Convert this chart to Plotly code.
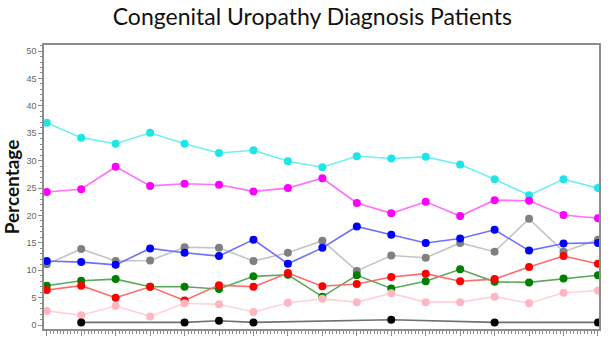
import plotly.graph_objects as go

x_idx = list(range(17))

cyan = [36.9, 34.2, 33.1, 35.1, 33.1, 31.4, 31.9, 29.9, 28.8, 30.8, 30.4, 30.7, 29.3, 26.6, 23.7, 26.6, 25.0]
magenta = [24.3, 24.8, 28.9, 25.4, 25.8, 25.6, 24.4, 25.0, 26.8, 22.3, 20.4, 22.5, 19.9, 22.8, 22.7, 20.1, 19.5]
blue = [11.7, 11.5, 11.0, 14.0, 13.2, 12.6, 15.6, 11.2, 14.1, 18.0, 16.5, 15.0, 15.8, 17.4, 13.6, 14.9, 15.0]
grey = [11.1, 13.9, 11.7, 11.8, 14.2, 14.1, 11.7, 13.2, 15.4, 9.9, 12.7, 12.3, 15.0, 13.4, 19.4, 13.4, 15.6]
green = [7.2, 8.1, 8.4, 7.0, 7.0, 6.6, 8.9, 9.2, 5.2, 9.1, 6.7, 8.0, 10.2, 7.9, 7.8, 8.5, 9.1]
red = [6.4, 7.2, 5.0, 7.0, 4.5, 7.3, 7.0, 9.5, 7.1, 7.5, 8.8, 9.4, 8.0, 8.4, 10.6, 12.6, 11.2]
pink = [2.6, 1.8, 3.5, 1.6, 4.0, 3.8, 2.4, 4.1, 4.8, 4.2, 5.8, 4.2, 4.2, 5.2, 4.0, 5.9, 6.3]
black = [None, 0.5, None, None, 0.5, 0.8, 0.5, None, None, None, 1.0, None, None, 0.5, None, None, 0.5]

series = [
    ("cyan", cyan, "#1ee6e6", "#70f0f0"),
    ("magenta", magenta, "#ff00ff", "#ff70ff"),
    ("grey", grey, "#808080", "#c4c4c4"),
    ("blue", blue, "#0000ff", "#6f6fff"),
    ("green", green, "#008000", "#5aaa5a"),
    ("red", red, "#ff0000", "#ff6a6a"),
    ("pink", pink, "#ffb6c1", "#ffd2d9"),
    ("black", black, "#000000", "#707070"),
]

fig = go.Figure()
for name, vals, mc, lc in series:
    fig.add_trace(go.Scatter(
        x=x_idx, y=vals, mode="lines+markers", name=name,
        connectgaps=True,
        line=dict(color=lc, width=1.6),
        marker=dict(color=mc, size=8),
        showlegend=False,
    ))

axis_col = "#8c8c8c"
fig.update_layout(
    width=610, height=347,
    margin=dict(l=38, r=9, t=45, b=18),
    paper_bgcolor="white", plot_bgcolor="white",
    title=dict(text="Congenital Uropathy Diagnosis Patients", x=0.512, xanchor="center",
               y=0.95, yanchor="middle",
               font=dict(family="Lato", size=23, color="#111")),
    xaxis=dict(range=[-0.08, 16.03], showgrid=False, zeroline=False,
               showline=True, linecolor=axis_col, linewidth=1.5, mirror=True,
               tickmode="linear", tick0=0, dtick=1, ticks="outside", ticklen=5,
               tickcolor=axis_col, showticklabels=False,
               minor=dict(dtick=0.1, tick0=0, ticks="outside", ticklen=3, tickcolor=axis_col, showgrid=False)),
    yaxis=dict(range=[-0.7, 51.1], showgrid=False, zeroline=False,
               showline=True, linecolor=axis_col, linewidth=1.5, mirror=True,
               tickmode="linear", tick0=0, dtick=5, ticks="outside", ticklen=4,
               tickcolor=axis_col, tickfont=dict(family="Liberation Sans", size=9, color="#666"),
               minor=dict(dtick=1, tick0=0, ticks="outside", ticklen=2, tickcolor=axis_col, showgrid=False),
               title=dict(text="<b>Percentage</b>", standoff=4,
                          font=dict(family="Lato", size=19, color="#111"))),
)

fig.write_html("out.html")
